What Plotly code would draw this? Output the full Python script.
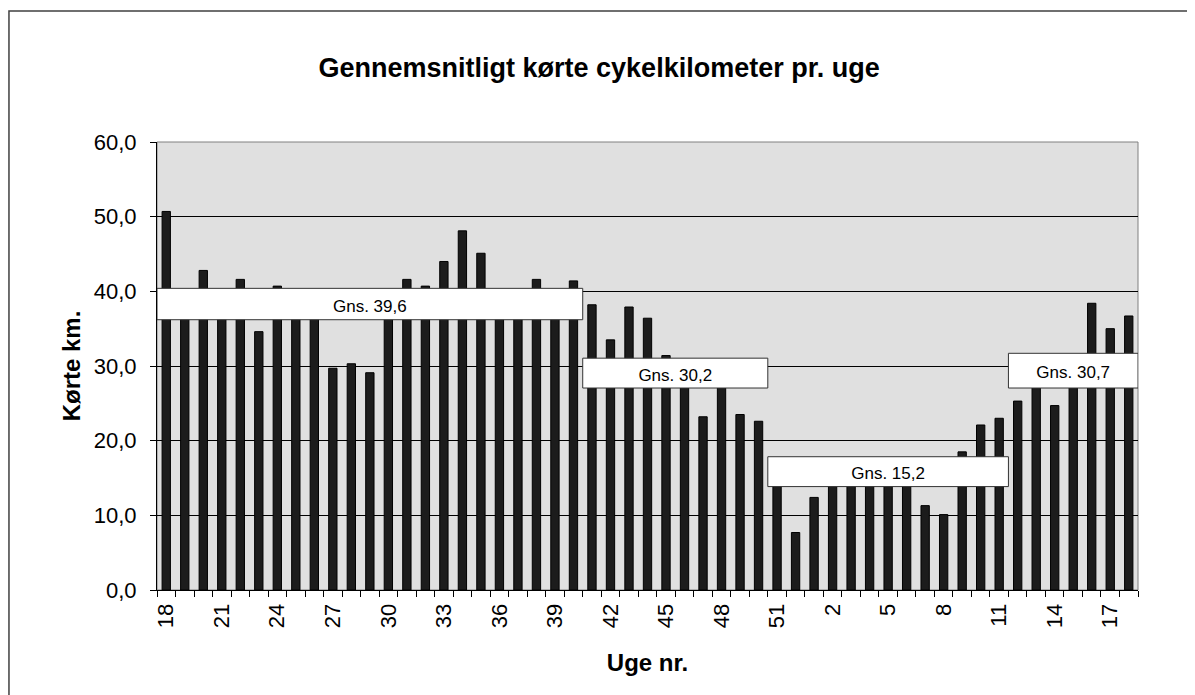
import plotly.graph_objects as go

# ---- data ----
weeks = list(range(18, 53)) + list(range(1, 19))
km = [50.7, 39.0, 42.8, 38.5, 41.6, 34.6, 40.7, 38.0, 37.5, 29.7,
      30.3, 29.1, 39.5, 41.6, 40.7, 44.0, 48.1, 45.1, 38.8, 38.0,
      41.6, 39.5, 41.4, 38.2, 33.5, 37.9, 36.4, 31.4, 28.0, 23.2,
      27.3, 23.5, 22.6, 15.0, 7.7, 12.4, 14.5, 16.0, 15.5, 16.5,
      15.0, 11.3, 10.1, 18.5, 22.1, 23.0, 25.3, 27.6, 24.7, 27.2,
      38.4, 35.0, 36.7]

period_labels = ["Gns. 39,6", "Gns. 30,2", "Gns. 15,2", "Gns. 30,7"]
period_first = [0, 23, 33, 46]     # index of first week in period
period_last = [22, 32, 45, 52]     # index of last week in period
box_bottom = [36.2, 27.05, 13.85, 27.05]
box_top = [40.4, 31.05, 17.85, 31.7]

y_ticks = [0, 10, 20, 30, 40, 50, 60]
label_step = 3

pos = list(range(len(weeks)))
tick_pos = pos[::label_step]
tick_text = [str(weeks[i]) for i in tick_pos]

FONT = "Arial, Liberation Sans, sans-serif"

fig = go.Figure()
fig.add_trace(go.Bar(
    x=pos, y=km, width=0.45,
    marker=dict(color="#1c1c1c", line=dict(color="black", width=1)),
    showlegend=False, hoverinfo="y",
))

shapes = []
# plot-area border (grey, top/right)
shapes.append(dict(type="rect", xref="paper", yref="paper", x0=0, x1=1, y0=0, y1=1,
                   line=dict(color="#808080", width=1), fillcolor="rgba(0,0,0,0)", layer="below"))
# outer chart border
shapes.append(dict(type="rect", xref="paper", yref="paper",
                   x0=-0.1509, x1=1.12, y0=-0.30, y1=1.2924,
                   line=dict(color="#404040", width=1.5), fillcolor="rgba(0,0,0,0)", layer="above"))
for lab, a, b, y0, y1 in zip(period_labels, period_first, period_last, box_bottom, box_top):
    shapes.append(dict(
        type="rect", xref="x", yref="y", x0=a - 0.5, x1=b + 0.5, y0=y0, y1=y1,
        fillcolor="white", line=dict(color="#333333", width=1), layer="above",
        label=dict(text=lab, font=dict(family=FONT, size=17, color="black"),
                   textposition="middle center"),
    ))

fig.update_layout(
    width=1187, height=687,
    margin=dict(l=149, r=57, t=134, b=105),
    paper_bgcolor="white", plot_bgcolor="#E0E0E0",
    separators=",.",
    font=dict(family=FONT, color="black"),
    title=dict(text="<b>Gennemsnitligt kørte cykelkilometer pr. uge</b>",
               x=0.498, xref="container", y=1 - 60 / 687, yref="container",
               yanchor="middle", xanchor="center",
               font=dict(family=FONT, size=27, color="black")),
    shapes=shapes,
)

fig.update_xaxes(
    range=[-0.5, len(weeks) - 0.5],
    tickmode="array", tickvals=tick_pos, ticktext=tick_text,
    tickangle=-90, ticks="", tickfont=dict(family=FONT, size=22, color="black"),
    ticklabelstandoff=4,
    showgrid=False, zeroline=False,
    showline=True, linecolor="black", linewidth=1,
    minor=dict(ticks="outside", tick0=-0.5, dtick=1, ticklen=6, tickcolor="black", showgrid=False),
    title=dict(text="<b>Uge nr.</b>", font=dict(family=FONT, size=24, color="black"), standoff=26),
    fixedrange=True,
)
fig.update_yaxes(
    range=[0, 60], tickmode="array", tickvals=y_ticks, tickformat=".1f",
    ticks="outside", ticklen=6, tickcolor="black",
    tickfont=dict(family=FONT, size=22, color="black"),
    ticklabelstandoff=9,
    showgrid=True, gridcolor="black", gridwidth=1,
    zeroline=False, showline=True, linecolor="black", linewidth=1,
    title=dict(text="<b>Kørte km.</b>", font=dict(family=FONT, size=24, color="black"), standoff=6),
    fixedrange=True,
)

fig.write_html("out.html")
